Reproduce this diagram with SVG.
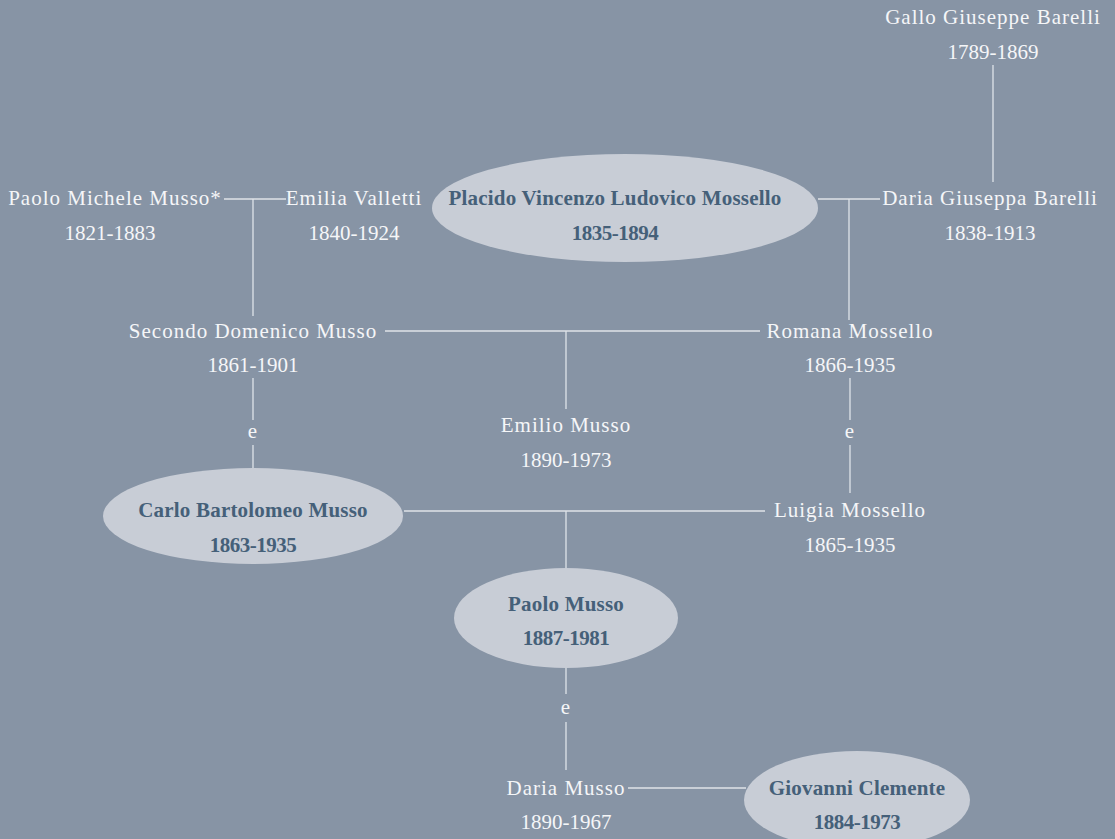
<svg xmlns="http://www.w3.org/2000/svg" width="1115" height="839" viewBox="0 0 1115 839">
<style>
text{font-family:"Liberation Serif","DejaVu Serif",serif;font-size:21px;text-anchor:middle}
.n{fill:#f5f6f8;letter-spacing:1px}
.b{fill:#456079;font-weight:bold;letter-spacing:0.2px}
.y{letter-spacing:0}
.b.y{letter-spacing:-0.5px}
.o{fill:#c8cdd6}
#conn line{stroke:#dfe3e9;stroke-width:1.3}
</style>
<rect width="1115" height="839" fill="#8794a5"/>
<g id="conn">
<line x1="993" y1="65" x2="993" y2="182"/>
<line x1="818" y1="199" x2="880" y2="199"/>
<line x1="849" y1="199" x2="849" y2="320"/>
<line x1="224" y1="199" x2="286" y2="199"/>
<line x1="253" y1="199" x2="253" y2="316"/>
<line x1="385" y1="331" x2="760" y2="331"/>
<line x1="566" y1="331" x2="566" y2="409"/>
<line x1="253" y1="378" x2="253" y2="420"/>
<line x1="253" y1="445" x2="253" y2="494"/>
<line x1="850" y1="378" x2="850" y2="420"/>
<line x1="850" y1="445" x2="850" y2="493"/>
<line x1="404" y1="511" x2="765" y2="511"/>
<line x1="566" y1="511" x2="566" y2="588"/>
<line x1="566" y1="655" x2="566" y2="694"/>
<line x1="566" y1="722" x2="566" y2="770"/>
<line x1="628" y1="788" x2="746" y2="788"/>
</g>
<g id="gallo"><text class="n" x="993" y="24">Gallo Giuseppe Barelli</text><text class="n y" x="993" y="59">1789-1869</text></g>
<g id="daria-barelli"><text class="n" x="990" y="205">Daria Giuseppa Barelli</text><text class="n y" x="990" y="240">1838-1913</text></g>
<g id="placido"><ellipse class="o" cx="625" cy="208" rx="193" ry="54"/><text class="b" x="615" y="205">Placido Vincenzo Ludovico Mossello</text><text class="b y" x="615" y="240">1835-1894</text></g>
<g id="paolo-michele"><text class="n" x="115" y="205">Paolo Michele Musso*</text><text class="n y" x="110" y="240">1821-1883</text></g>
<g id="emilia"><text class="n" x="354" y="205">Emilia Valletti</text><text class="n y" x="354" y="240">1840-1924</text></g>
<g id="secondo"><text class="n" x="253" y="338">Secondo Domenico Musso</text><text class="n y" x="253" y="372">1861-1901</text></g>
<g id="romana"><text class="n" x="850" y="338">Romana Mossello</text><text class="n y" x="850" y="372">1866-1935</text></g>
<g id="emilio"><text class="n" x="566" y="432">Emilio Musso</text><text class="n y" x="566" y="467">1890-1973</text></g>
<g id="e1"><text class="n" x="253" y="438">e</text></g>
<g id="e2"><text class="n" x="850" y="438">e</text></g>
<g id="carlo"><ellipse class="o" cx="253" cy="516" rx="150" ry="48"/><text class="b" x="253" y="517">Carlo Bartolomeo Musso</text><text class="b y" x="253" y="552">1863-1935</text></g>
<g id="luigia"><text class="n" x="850" y="517">Luigia Mossello</text><text class="n y" x="850" y="552">1865-1935</text></g>
<g id="paolo"><ellipse class="o" cx="566" cy="618" rx="112" ry="50"/><text class="b" x="566" y="611">Paolo Musso</text><text class="b y" x="566" y="645">1887-1981</text></g>
<g id="e3"><text class="n" x="566" y="714">e</text></g>
<g id="daria-musso"><text class="n" x="566" y="795">Daria Musso</text><text class="n y" x="566" y="829">1890-1967</text></g>
<g id="giovanni"><ellipse class="o" cx="857" cy="800" rx="113" ry="49"/><text class="b" x="857" y="795">Giovanni Clemente</text><text class="b y" x="857" y="829">1884-1973</text></g>
</svg>
